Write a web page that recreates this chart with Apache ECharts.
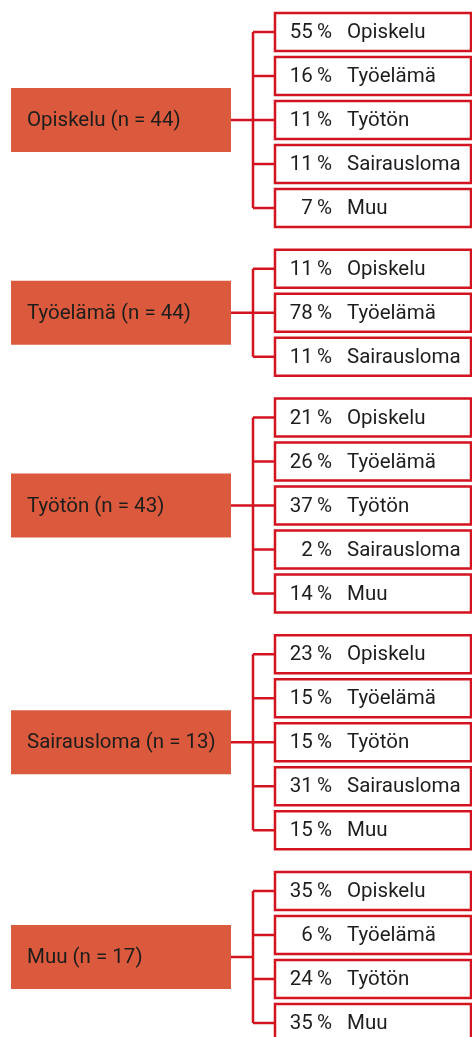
<!DOCTYPE html>
<html>
<head>
<meta charset="utf-8">
<script src="https://cdn.jsdelivr.net/npm/echarts@6/dist/echarts.min.js"></script>
<style>
  html, body { margin: 0; padding: 0; background: #fff; }
  #chart { width: 472px; height: 1037px; }
</style>
</head>
<body>
<div id="chart"></div>
<script>
// lähtötilanne ja n
const groupNames = ['Opiskelu', 'Työelämä', 'Työtön', 'Sairausloma', 'Muu'];
const groupN = [44, 44, 43, 13, 17];

// tilanne myöhemmin, osuudet %
const outcomeLabels = [
  ['Opiskelu', 'Työelämä', 'Työtön', 'Sairausloma', 'Muu'],
  ['Opiskelu', 'Työelämä', 'Sairausloma'],
  ['Opiskelu', 'Työelämä', 'Työtön', 'Sairausloma', 'Muu'],
  ['Opiskelu', 'Työelämä', 'Työtön', 'Sairausloma', 'Muu'],
  ['Opiskelu', 'Työelämä', 'Työtön', 'Muu']
];
const outcomeShares = [
  [55, 16, 11, 11, 7],
  [11, 78, 11],
  [21, 26, 37, 2, 14],
  [23, 15, 15, 31, 15],
  [35, 6, 24, 35]
];

// ulkoasu
const RED = '#d3131f';
const ORANGE = '#db5a3e';
const TEXT = '#1d1d1b';
const FONT = 'Roboto';
const FONT_SIZE = 20.5;
const TEXT_DY = 1;           // tekstin pieni siirto alaspäin
const GROUP_GAP = 0.38;      // rivin yksiköissä
const CHILD_H = 0.86;
const PARENT_H = 1.45;
const PARENT_X0 = 11, PARENT_X1 = 231, SPINE_X = 253;
const CHILD_X0 = 275, CHILD_X1 = 471;
const NUM_X = 332, LABEL_X = 347, PARENT_TEXT_X = 27;

// rivit
const childRows = [];
const parentRows = [];
let row = 0;
groupNames.forEach((name, gi) => {
  const first = row + gi * GROUP_GAP;
  outcomeLabels[gi].forEach((lab, j) => {
    childRows.push({pos: row + gi * GROUP_GAP, share: outcomeShares[gi][j], label: lab});
    row++;
  });
  const last = row - 1 + gi * GROUP_GAP;
  parentRows.push({first, last, mid: (first + last) / 2, text: `${name} (n = ${groupN[gi]})`});
});
const yMax = childRows[childRows.length - 1].pos;

const chart = echarts.init(document.getElementById('chart'));

const textStyle = (text, align) => ({
  text, align, verticalAlign: 'middle',
  fontFamily: FONT, fontSize: FONT_SIZE, fill: TEXT
});

chart.setOption({
  animation: false,
  grid: {left: 0, right: 0, top: 32, bottom: 14},
  xAxis: {type: 'value', min: 0, max: 472, show: false},
  yAxis: {type: 'value', min: 0, max: yMax, inverse: true, show: false},
  series: [
    {
      type: 'custom',
      data: parentRows.map(p => [PARENT_X0, p.mid]),
      renderItem: (params, api) => {
        const p = parentRows[params.dataIndex];
        const yMid = api.coord([0, p.mid])[1];
        const yFirst = api.coord([0, p.first])[1];
        const yLast = api.coord([0, p.last])[1];
        const h = api.size([0, PARENT_H])[1];
        const x0 = api.coord([PARENT_X0, 0])[0];
        const x1 = api.coord([PARENT_X1, 0])[0];
        const sx = api.coord([SPINE_X, 0])[0];
        const cx = api.coord([CHILD_X0, 0])[0];
        const lineStyle = {stroke: RED, lineWidth: 2.5, fill: null};
        const children = [
          {type: 'rect', shape: {x: x0, y: yMid - h / 2, width: x1 - x0, height: h}, style: {fill: ORANGE}},
          {type: 'text', x: api.coord([PARENT_TEXT_X, 0])[0], y: yMid + TEXT_DY, style: textStyle(p.text, 'left')},
          {type: 'line', shape: {x1: x1, y1: yMid, x2: sx, y2: yMid}, style: lineStyle},
          {type: 'line', shape: {x1: sx, y1: yFirst, x2: sx, y2: yLast}, style: lineStyle}
        ];
        // haarat lapsiin
        childRows.filter(c => c.pos >= p.first - 0.01 && c.pos <= p.last + 0.01).forEach(c => {
          const y = api.coord([0, c.pos])[1];
          children.push({type: 'line', shape: {x1: sx, y1: y, x2: cx, y2: y}, style: lineStyle});
        });
        return {type: 'group', children};
      }
    },
    {
      type: 'custom',
      data: childRows.map(c => [CHILD_X0, c.pos]),
      renderItem: (params, api) => {
        const c = childRows[params.dataIndex];
        const y = api.coord([0, c.pos])[1];
        const h = api.size([0, CHILD_H])[1];
        const x0 = api.coord([CHILD_X0, 0])[0];
        const x1 = api.coord([CHILD_X1, 0])[0];
        return {
          type: 'group',
          children: [
            {type: 'rect', shape: {x: x0, y: y - h / 2, width: x1 - x0, height: h},
              style: {fill: '#fff', stroke: RED, lineWidth: 2.5}},
            {type: 'text', x: api.coord([NUM_X, 0])[0], y: y + TEXT_DY, style: textStyle(c.share + '\u2009%', 'right')},
            {type: 'text', x: api.coord([LABEL_X, 0])[0], y: y + TEXT_DY, style: textStyle(c.label, 'left')}
          ]
        };
      }
    }
  ]
});
</script>
</body>
</html>
